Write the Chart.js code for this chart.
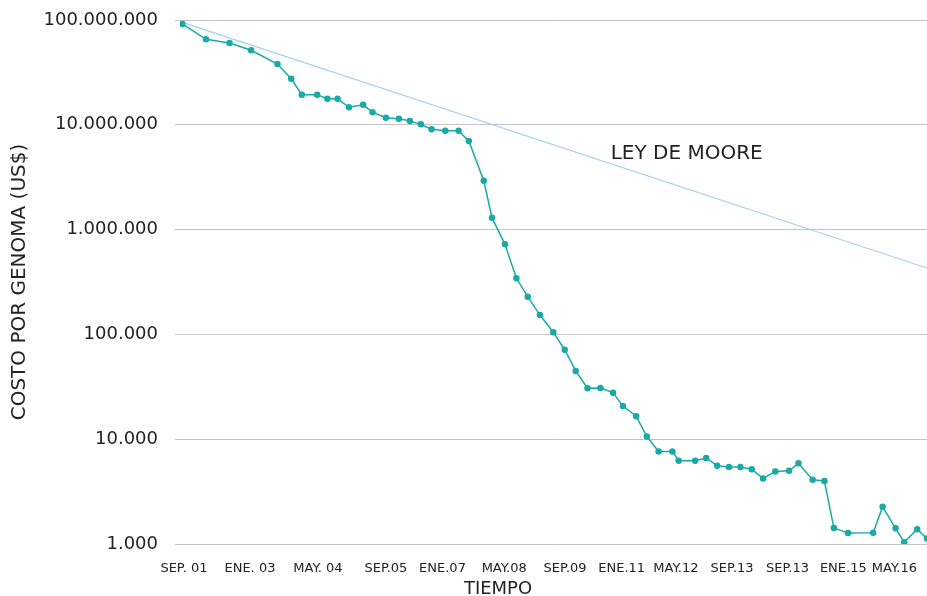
<!DOCTYPE html>
<html>
<head>
<meta charset="utf-8">
<script src="https://cdn.jsdelivr.net/npm/chart.js@4/dist/chart.umd.min.js"></script>
<style>
  html, body { margin: 0; padding: 0; background: #fff; }
  #costChart { display: block; }
</style>
</head>
<body>
<canvas id="costChart" width="927" height="596"></canvas>
<script>
// months since Sep. 2001 for each measurement
const months = [
    0, 6, 12, 17.5, 24.2, 27.7, 30.4, 34.3, 36.9, 39.5,
    42.4, 46.0, 48.4, 51.8, 55.1, 57.9, 60.7, 63.4, 66.9, 70.3,
    72.9, 76.7, 78.8, 82.1, 85.0, 87.9, 91.0, 94.4, 97.3, 100.1,
    103.1, 106.4, 109.6, 112.1, 115.5, 118.2, 121.2, 124.7, 126.3, 130.5,
    133.3, 136.1, 139.1, 142.0, 144.9, 147.8, 150.9, 154.4, 156.8, 160.4,
    163.4, 165.8, 169.4, 175.8, 178.2, 181.5, 183.7, 187.0, 189.5
];

// cost per genome, US$
const costPerGenome = [
    91600000, 65400000, 60300000, 51400000, 38000000, 27500000, 19400000, 19400000, 17700000, 17700000,
    14700000, 15500000, 13200000, 11700000, 11400000, 10900000, 10100000, 9060000, 8790000, 8790000,
    7000000, 2930000, 1300000, 724000, 343000, 229000, 153000, 105000, 71400, 44800,
    30600, 30800, 27800, 20700, 16600, 10600, 7630, 7650, 6240, 6240,
    6620, 5590, 5430, 5430, 5160, 4220, 4920, 5000, 5890, 4110,
    3990, 1420, 1270, 1280, 2270, 1410, 1040, 1380, 1130
];

// Moore's law reference: start and end of the straight line
const mooreMonths = [0, 189.5];
const mooreCost = [95000000, 430000];

const yTickValues = [1000, 10000, 100000, 1000000, 10000000, 100000000];

const xTickMonths = [0.4, 17.2, 34.5, 51.8, 66.2, 81.9, 97.4, 111.8, 125.6, 139.9, 154.0, 168.2, 181.2];
const xTickLabels = ["SEP. 01", "ENE. 03", "MAY. 04", "SEP.05", "ENE.07", "MAY.08", "SEP.09",
    "ENE.11", "MAY.12", "SEP.13", "SEP.13", "ENE.15", "MAY.16"];

const FONT = "'DejaVu Sans', sans-serif";
const TEXT = "#222";

function withDots(v) {
    return String(Math.round(v)).replace(/\B(?=(\d{3})+(?!\d))/g, ".");
}

// extra captions: Moore label and x axis title
const captions = {
    id: "captions",
    afterDraw(chart) {
        const { ctx, scales } = chart;
        ctx.save();
        ctx.fillStyle = TEXT;
        ctx.textBaseline = "middle";

        ctx.font = "20px " + FONT;
        ctx.textAlign = "left";
        ctx.fillText("LEY DE MOORE", scales.x.getPixelForValue(109), scales.y.getPixelForValue(5300000));

        ctx.font = "18px " + FONT;
        ctx.textAlign = "center";
        ctx.fillText("TIEMPO", 498, 589);
        ctx.restore();
    }
};

new Chart(document.getElementById("costChart"), {
    type: "line",
    data: {
        datasets: [
            {
                label: "Costo por genoma",
                data: months.map((m, i) => ({ x: m, y: costPerGenome[i] })),
                borderColor: "#19aaa7",
                backgroundColor: "#19aaa7",
                borderWidth: 1.5,
                pointRadius: 2.5,
                pointHoverRadius: 2.5,
                tension: 0,
                order: 1
            },
            {
                label: "Ley de Moore",
                data: mooreMonths.map((m, i) => ({ x: m, y: mooreCost[i] })),
                borderColor: "#9fd4ef",
                borderWidth: 1.2,
                pointRadius: 0,
                tension: 0,
                order: 2
            }
        ]
    },
    options: {
        responsive: false,
        animation: false,
        layout: { autoPadding: false, padding: { top: 20, right: 0, left: 0, bottom: 0 } },
        plugins: {
            legend: { display: false },
            tooltip: { enabled: false }
        },
        scales: {
            x: {
                type: "linear",
                min: -0.6,
                max: 189.5,
                grid: { display: false, drawTicks: false },
                border: { display: false },
                afterBuildTicks: scale => {
                    scale.ticks = xTickMonths.map(v => ({ value: v }));
                },
                afterFit: scale => {
                    scale.height = 52;
                    scale.paddingLeft = 0;
                    scale.paddingRight = 0;
                },
                ticks: {
                    autoSkip: false,
                    maxRotation: 0,
                    padding: 17,
                    color: TEXT,
                    font: { family: FONT, size: 13 },
                    callback: (v, i) => xTickLabels[i]
                }
            },
            y: {
                type: "logarithmic",
                min: 1000,
                max: 100000000,
                grid: { color: "#c4c4c4", lineWidth: 1, tickLength: 5 },
                border: { display: false },
                afterBuildTicks: scale => {
                    scale.ticks = yTickValues.map(v => ({ value: v }));
                },
                afterFit: scale => {
                    scale.width = 180;
                    scale.paddingTop = 0;
                    scale.paddingBottom = 0;
                },
                title: {
                    display: true,
                    text: "COSTO POR GENOMA (US$)",
                    color: TEXT,
                    font: { family: FONT, size: 20 },
                    padding: { top: 8, bottom: 0 }
                },
                ticks: {
                    padding: 17,
                    color: TEXT,
                    font: { family: FONT, size: 18 },
                    callback: v => withDots(v)
                }
            }
        }
    },
    plugins: [captions]
});
</script>
</body>
</html>
